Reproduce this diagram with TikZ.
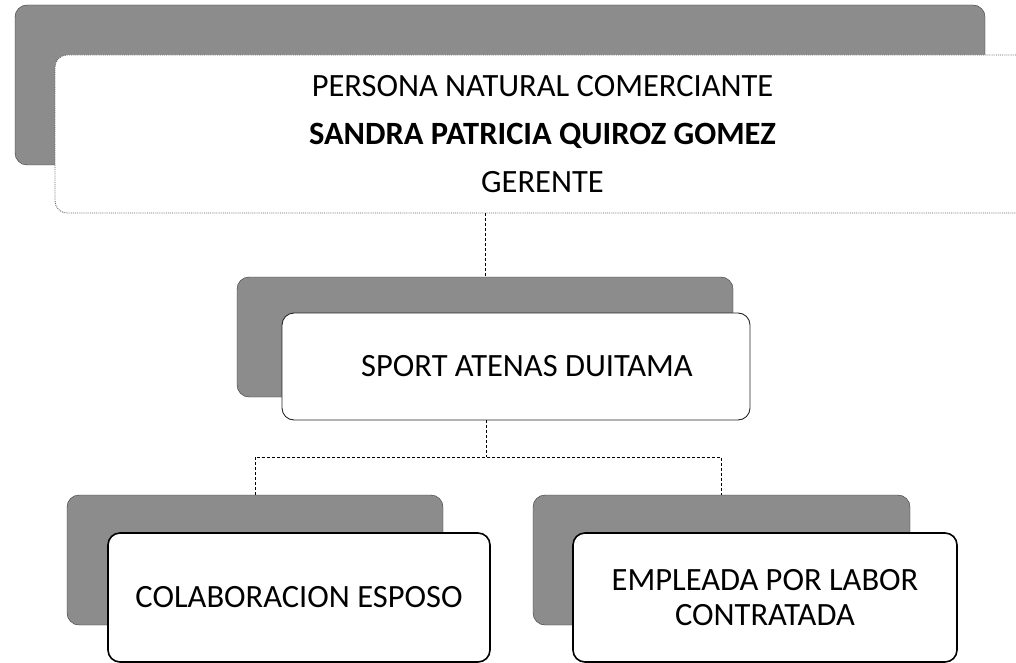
\documentclass[tikz,border=0pt]{standalone}
\usepackage{fontspec}
\setmainfont{Carlito}
\usepackage{tikz}
\usetikzlibrary{calc}

\tikzset{
  shadowbox/.style={draw=black!80, fill=black!45, rounded corners=12pt, inner sep=0pt},
  frontbox/.style={fill=white, rounded corners=12pt, inner sep=0pt, align=center,
    font=\fontsize{32.5}{48}\selectfont},
  link/.style={draw=black, line width=1pt, densely dashed}
}

\begin{document}
\begin{tikzpicture}[x=1pt, y=-1pt]
                \useasboundingbox (0,0) rectangle (1016,663);
                
                % shadows
                \node[shadowbox, minimum width=970, minimum height=160] (gerenteShadow) at (500,85) {};
                \node[shadowbox, minimum width=496, minimum height=120] (empresaShadow) at (485,337) {};
                \node[shadowbox, minimum width=376, minimum height=130] (esposoShadow) at (255,560) {};
                \node[shadowbox, minimum width=377, minimum height=130] (empleadaShadow) at (721.5,560) {};
                
                % top box
                \node[frontbox, draw=black!60, densely dotted, line width=0.9pt,
                      minimum width=975, minimum height=158] (gerente) at (542.5,134)
                      {PERSONA NATURAL COMERCIANTE\\\textbf{SANDRA PATRICIA QUIROZ GOMEZ}\\GERENTE};
                
                % middle box
                \node[frontbox, draw=black!85, line width=0.9pt,
                      minimum width=468, minimum height=107] (empresa) at (516,366.5)
                      {\hspace*{22pt}SPORT ATENAS DUITAMA};
                
                % bottom boxes
                \node[frontbox, draw=black, line width=1.6pt,
                      minimum width=382, minimum height=129] (esposo) at (299,597.5)
                      {COLABORACION ESPOSO};
                \node[frontbox, draw=black, line width=1.6pt,
                      font=\fontsize{32.5}{35}\selectfont,
                      minimum width=384, minimum height=129] (empleada) at (765,597.5)
                      {EMPLEADA POR LABOR\\CONTRATADA};
                
                % connectors
                \draw[link] (empresaShadow.north |- gerente.south) -- (empresaShadow.north);
                \coordinate (bus) at (486,457);
                \draw[link] (empresa.south -| bus) -- (bus);
                \draw[link] (esposoShadow.north) |- (bus) -| (empleadaShadow.north);
\end{tikzpicture}
\end{document}
